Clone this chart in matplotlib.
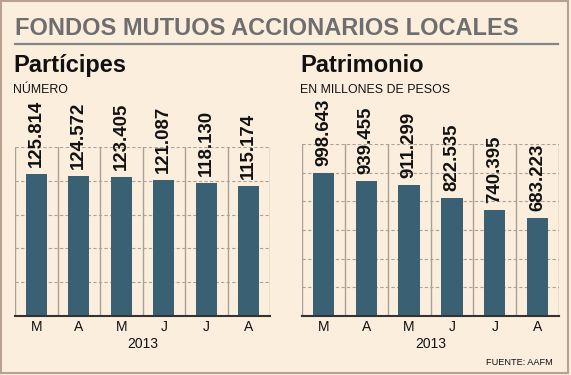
import matplotlib
matplotlib.use("Agg")
import matplotlib.pyplot as plt
from matplotlib.patches import Rectangle
from matplotlib.lines import Line2D
import numpy as np

# datos
meses = ["M", "A", "M", "J", "J", "A"]
participes = [125814, 124572, 123405, 121087, 118130, 115174]
patrimonio = [998643, 939455, 911299, 822535, 740395, 683223]
anio = "2013"

plt.rcParams['font.family'] = ['Liberation Sans', 'DejaVu Sans']

fondo = "#fbeedd"
azul = "#3a6073"
W, H = 571, 375

fig = plt.figure(figsize=(W / 100, H / 100), dpi=100)
fig.patch.set_facecolor(fondo)

def fy(px):
    # pixel desde arriba -> fraccion de figura
    return 1 - px / H

# borde exterior
fig.patches.append(Rectangle((0.5 / W, 2.0 / H), 1 - 3.5 / W, 1 - 3.0 / H,
                             transform=fig.transFigure, fill=False,
                             edgecolor="#b8a18f", linewidth=1.5))

fig.text(15 / W, fy(35), "FONDOS MUTUOS ACCIONARIOS LOCALES", fontsize=17,
         fontweight="bold", color="#6e6e6e", va="baseline", ha="left")
fig.lines.append(Line2D([15 / W, 558 / W], [fy(43.5), fy(43.5)],
                        transform=fig.transFigure, color="#858585", linewidth=1.6))


def panel(left, right, top, valores, ymax, paso, titulo, subtitulo):
    bottom = 316
    ax = fig.add_axes([left / W, fy(bottom), (right - left) / W, (bottom - top) / H])
    ax.set_facecolor(fondo)
    x = np.arange(len(valores))
    ax.bar(x, valores, width=0.5, color=azul, zorder=3)
    ax.set_xlim(-0.5, len(valores) - 0.5)
    ax.set_ylim(0, ymax)
    ax.set_yticks(np.arange(0, ymax + 1, paso))
    ax.set_yticklabels([])
    ax.set_xticks(x)
    ax.set_xticklabels(meses, fontsize=10)
    ax.set_xticks(np.arange(-0.5, len(valores)), minor=True)
    ax.tick_params(axis="both", which="both", length=0)
    ax.tick_params(axis="x", pad=3, colors="#111111")
    ax.grid(axis="y", which="major", linestyle=(0, (3, 2)), color="#a9a39b", linewidth=0.8, zorder=1)
    ax.grid(axis="x", which="minor", linestyle="-", color="#a8a198", linewidth=1.0, zorder=1)
    for s in ["left", "right", "top"]:
        ax.spines[s].set_visible(False)
    ax.spines["bottom"].set_color("#333333")
    ax.spines["bottom"].set_linewidth(1.5)
    ax.spines["bottom"].set_zorder(4)
    for xi, v in zip(x, valores):
        ax.annotate(f"{v:,}".replace(",", "."), (xi, v), xytext=(0, 5),
                    textcoords="offset points", rotation=90, ha="center",
                    va="bottom", fontsize=13.4, fontweight="bold", color="#111111")
    fig.text(left / W - 2 / W, fy(72), titulo, fontsize=17, fontweight="bold",
             color="#111111", va="baseline", ha="left")
    fig.text(left / W - 2 / W, fy(93), subtitulo, fontsize=8.9,
             color="#111111", va="baseline", ha="left")
    fig.text((left + right) / 2 / W, fy(348), anio, fontsize=10,
             color="#111111", va="baseline", ha="center")
    return ax


panel(15, 270, 147, participes, 150000, 30000, "Partícipes", "NÚMERO")
panel(302, 559, 144, patrimonio, 1200000, 200000, "Patrimonio", "EN MILLONES DE PESOS")

fig.text(553 / W, fy(365), "FUENTE: AAFM", fontsize=6.6,
         color="#111111", va="baseline", ha="right")

fig.savefig("out.png", dpi=100, facecolor=fondo)
